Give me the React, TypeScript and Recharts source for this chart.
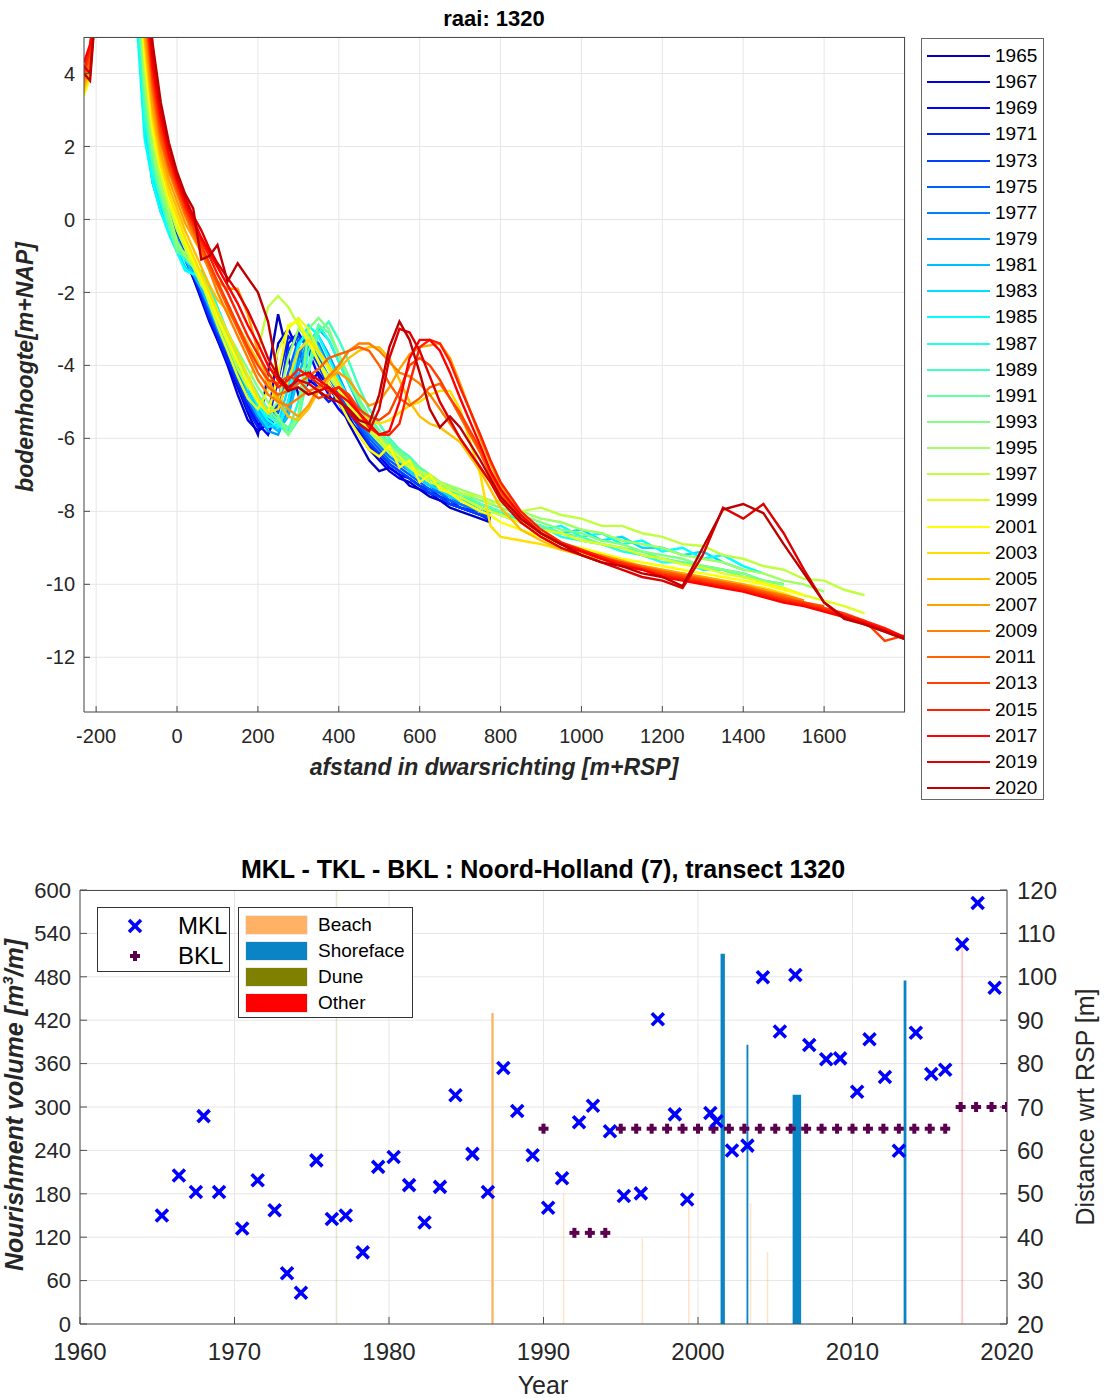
import React from "react";
import {
  CartesianGrid,
  ComposedChart,
  Line,
  LineChart,
  ReferenceArea,
  Scatter,
  XAxis,
  YAxis,
} from "recharts";

// ---------- top panel: cross-shore profiles, raai 1320 ----------

// cross-shore distance grid [m+RSP]
const distance = [
  -230, -215, -200, -100, -80, -60, -40, -20,
  0, 20, 40, 60, 80, 100, 125, 150, 175, 200,
  225, 250, 275, 300, 325, 350, 375, 400, 425, 450,
  475, 500, 525, 550, 575, 600, 625, 650, 675, 700,
  750, 775, 800, 850, 900, 950, 1000, 1050, 1100, 1150,
  1200, 1250, 1300, 1350, 1400, 1450, 1500, 1550, 1600, 1650,
  1700, 1750, 1800,
];

// bed level [m+NAP] per survey year
const z1965 = [null, null, 7, 8, 3.5, 1.4, 0.5, 0.0,
  -0.5, -1.0, -1.6, -2.1, -2.7, -3.3, -3.9, -4.6, -5.3, -5.9,
  -4.2, -2.6, -3.8, -4.8, -4.5, -4.2, -4.6, -5.0, -5.6, -6.1,
  -6.6, -6.9, -6.8, -7.0, -7.3, -7.4, -7.6, -7.7, -7.9, -8.0,
  -8.2, -8.3];
const z1967 = [null, null, 7, 8, 3.2, 1.2, 0.3, -0.2,
  -0.6, -1.1, -1.6, -2.2, -2.8, -3.3, -4.0, -4.8, -5.5, -5.8,
  -5.6, -3.4, -3.0, -3.6, -4.4, -4.6, -4.5, -4.9, -5.4, -5.9,
  -6.3, -6.6, -6.9, -7.1, -7.2, -7.4, -7.5, -7.7, -7.8, -7.9,
  -8.1, -8.2];
const z1969 = [null, null, 7, 8, 3.8, 1.6, 0.6, 0.1,
  -0.4, -0.9, -1.4, -2.0, -2.6, -3.1, -3.8, -4.5, -5.1, -5.6,
  -5.9, -5.2, -3.4, -3.1, -3.6, -4.3, -4.8, -5.2, -5.5, -5.8,
  -6.2, -6.5, -6.8, -7.0, -7.1, -7.3, -7.5, -7.6, -7.8, -7.9,
  -8.1, -8.25];
const z1971 = [null, null, 7, 8, 3.0, 1.1, 0.4, -0.1,
  -0.5, -1.0, -1.5, -2.1, -2.7, -3.2, -3.9, -4.5, -5.2, -5.7,
  -5.5, -4.4, -3.2, -3.5, -4.1, -4.7, -5.0, -4.8, -5.2, -5.7,
  -6.2, -6.4, -6.7, -6.9, -7.1, -7.3, -7.4, -7.6, -7.7, -7.9,
  -8.0, -8.2];
const z1973 = [null, null, 7, 8, 2.6, 1.0, 0.3, -0.2,
  -0.6, -1.0, -1.5, -2.0, -2.6, -3.1, -3.7, -4.4, -5.0, -5.5,
  -5.7, -5.0, -3.6, -3.2, -3.5, -4.0, -4.6, -5.0, -5.3, -5.7,
  -6.1, -6.4, -6.7, -6.9, -7.1, -7.3, -7.5, -7.6, -7.8, -7.9,
  -8.1, -8.2];
const z1975 = [null, null, 7, 8, 3.3, 1.4, 0.6, 0.1,
  -0.3, -0.8, -1.3, -1.9, -2.5, -3.0, -3.6, -4.2, -4.9, -5.4,
  -5.6, -5.3, -4.2, -3.3, -3.3, -3.8, -4.3, -4.8, -5.2, -5.6,
  -6.0, -6.3, -6.6, -6.8, -7.0, -7.2, -7.4, -7.5, -7.7, -7.8,
  -8.0, -8.15];
const z1977 = [null, null, 7, 8, 3.6, 1.5, 0.7, 0.2,
  -0.2, -0.7, -1.2, -1.8, -2.3, -2.9, -3.5, -4.1, -4.7, -5.2,
  -5.6, -5.7, -5.0, -3.8, -3.1, -3.4, -4.0, -4.6, -5.1, -5.5,
  -5.9, -6.2, -6.5, -6.7, -6.9, -7.1, -7.3, -7.5, -7.6, -7.8,
  -8.0, -8.1];
const z1979 = [null, null, 7, 7.5, 3.0, 1.2, 0.4, -0.1,
  -0.5, -1.0, -1.4, -1.9, -2.4, -3.0, -3.6, -4.3, -4.9, -5.4,
  -5.8, -5.9, -5.2, -4.0, -3.3, -3.2, -3.7, -4.3, -4.9, -5.4,
  -5.8, -6.1, -6.4, -6.6, -6.9, -7.1, -7.3, -7.4, -7.6, -7.7,
  -7.9, -8.05];
const z1981 = [null, null, 7, 7.5, 2.8, 1.0, 0.2, -0.3,
  -0.7, -1.1, -1.5, -1.9, -2.4, -2.9, -3.5, -4.1, -4.7, -5.2,
  -5.6, -5.8, -5.4, -4.3, -3.4, -3.0, -3.3, -3.9, -4.5, -5.1,
  -5.6, -6.0, -6.3, -6.5, -6.8, -7.0, -7.2, -7.4, -7.5, -7.7,
  -7.9, -8.0];
const z1983 = [null, null, 7, 6, 2.5, 1.2, 0.4, -0.2,
  -0.8, -1.3, -1.5, -1.6, -2.0, -2.6, -3.3, -4.0, -4.7, -5.3,
  -5.7, -5.6, -4.6, -3.4, -3.1, -3.5, -4.1, -4.6, -5.0, -5.4,
  -5.8, -6.1, -6.4, -6.6, -6.9, -7.1, -7.3, -7.4, -7.6, -7.7,
  -7.9, -8.0, -8.0, -8.3, -8.4, -8.6, -8.5, -8.8, -8.7, -9.0,
  -9.0, -9.2, -9.1, -9.4, -9.6];
const z1985 = [null, null, 7, 5.5, 2.2, 1.0, 0.2, -0.4,
  -0.9, -1.4, -1.5, -1.4, -1.8, -2.4, -3.1, -3.8, -4.5, -5.1,
  -5.5, -5.7, -5.0, -3.5, -2.9, -3.2, -3.8, -4.4, -4.9, -5.3,
  -5.6, -5.9, -6.2, -6.4, -6.7, -6.9, -7.1, -7.3, -7.4, -7.6,
  -7.9, -8.0, -8.1, -8.2, -8.5, -8.4, -8.7, -8.6, -8.9, -8.8,
  -9.1, -9.0, -9.3, -9.2, -9.5, -9.7];
const z1987 = [null, null, 7, 6, 2.8, 1.3, 0.5, -0.3,
  -0.8, -1.1, -1.3, -1.6, -2.1, -2.7, -3.3, -3.9, -4.5, -5.0,
  -5.4, -5.6, -5.8, -5.0, -3.6, -2.9, -3.3, -3.9, -4.5, -5.0,
  -5.4, -5.8, -6.1, -6.4, -6.6, -6.9, -7.1, -7.2, -7.4, -7.6,
  -7.8, -7.9, -8.1, -8.3, -8.4, -8.7, -8.8, -8.9, -9.1, -9.2,
  -9.4, -9.4, -9.6, -9.6, -9.8, -9.9];
const z1989 = [null, null, 7, 6.5, 3.0, 1.5, 0.6, -0.2,
  -0.7, -1.0, -1.2, -1.5, -1.9, -2.5, -3.1, -3.7, -4.3, -4.8,
  -5.3, -5.6, -5.9, -5.5, -4.2, -3.1, -2.8, -3.3, -3.9, -4.6,
  -5.2, -5.6, -6.0, -6.3, -6.5, -6.8, -7.0, -7.2, -7.4, -7.5,
  -7.8, -7.9, -8.1, -8.3, -8.5, -8.6, -8.8, -8.9, -9.0, -9.2,
  -9.3, -9.4, -9.5, -9.6, -9.7, -9.9, -10.0];
const z1991 = [3.9, 4.6, 7, 7, 3.4, 1.7, 0.7, -0.1,
  -0.9, -1.0, -1.2, -1.6, -2.1, -2.6, -3.2, -3.8, -4.3, -4.8,
  -5.2, -5.5, -5.7, -5.4, -4.0, -2.9, -3.1, -3.7, -4.3, -4.9,
  -5.4, -5.8, -6.1, -6.3, -6.6, -6.8, -7.0, -7.2, -7.3, -7.5,
  -7.8, -7.9, -8.0, -8.2, -8.4, -8.6, -8.7, -8.9, -9.0, -9.1,
  -9.3, -9.4, -9.5, -9.6, -9.8, -9.9, -10.0];
const z1993 = [3.8, 4.4, 7, 7, 3.6, 1.8, 0.8, 0.0,
  -0.8, -0.9, -1.1, -1.5, -2.0, -2.5, -3.1, -3.6, -4.1, -4.6,
  -5.0, -5.4, -5.9, -5.4, -3.0, -2.7, -3.0, -3.7, -4.4, -5.0,
  -5.5, -5.9, -6.2, -6.4, -6.6, -6.9, -7.0, -7.2, -7.4, -7.5,
  -7.7, -7.8, -7.9, -8.1, -8.3, -8.5, -8.6, -8.8, -8.9, -9.1,
  -9.2, -9.3, -9.5, -9.6, -9.7, -9.9, -10.0];
const z1995 = [3.7, 4.3, 7, 7.5, 3.8, 2.0, 1.0, 0.2,
  -0.6, -1.0, -1.3, -1.7, -2.2, -2.7, -3.3, -3.9, -4.5, -5.0,
  -5.3, -5.0, -3.8, -3.0, -3.2, -3.7, -4.1, -4.6, -5.0, -5.4,
  -5.8, -6.1, -6.3, -6.5, -6.7, -6.9, -7.0, -7.2, -7.3, -7.4,
  -7.6, -7.7, -7.8, -8.0, -8.2, -8.3, -8.5, -8.6, -8.8, -8.9,
  -9.0, -9.2, -9.3, -9.4, -9.6, -9.7, -9.9, -10.0, -10.2];
const z1997 = [3.6, 4.2, 7, 8, 4.2, 2.3, 1.2, 0.4,
  -0.3, -0.8, -1.3, -1.8, -2.1, -2.7, -3.4, -4.1, -4.6, -3.6,
  -2.4, -2.1, -2.4, -2.9, -3.4, -3.9, -4.3, -4.7, -5.1, -5.5,
  -5.8, -6.1, -6.4, -6.6, -6.8, -6.9, -7.1, -7.2, -7.4, -7.5,
  -7.6, -7.8, -7.7, -8.0, -7.9, -8.1, -8.2, -8.4, -8.4, -8.6,
  -8.7, -8.9, -8.95, -9.2, -9.3, -9.5, -9.6, -9.85, -9.9, -10.15,
  -10.3];
const z1999 = [3.5, 4.1, 7, 8, 4.4, 2.4, 1.3, 0.5,
  -0.2, -0.7, -1.2, -1.7, -2.3, -2.9, -3.6, -4.3, -4.9, -5.2,
  -4.7, -3.6, -3.0, -2.7, -3.0, -3.6, -4.1, -4.6, -5.1, -5.4,
  -5.7, -6.0, -6.3, -6.5, -6.8, -7.0, -7.2, -7.3, -7.5, -7.6,
  -7.9, -8.0, -8.1, -8.3, -8.5, -8.6, -8.8, -8.9, -9.0, -9.2,
  -9.3, -9.45, -9.55, -9.7, -9.8, -9.95, -10.1, -10.3, -10.45, -10.6,
  -10.8];
const z2001 = [3.4, 3.9, 6, 8, 4.6, 2.5, 1.4, 0.6,
  0.0, -0.6, -1.1, -1.6, -2.1, -2.7, -3.3, -3.9, -4.5, -5.0,
  -5.3, -4.3, -2.9, -2.8, -3.3, -3.9, -4.5, -5.0, -5.5, -5.9,
  -6.3, -6.5, -6.2, -6.8, -6.6, -7.2, -7.0, -7.4, -7.5, -7.7,
  -8.0, -8.1, -8.3, -8.5, -8.7, -8.9, -9.0, -9.15, -9.3, -9.4,
  -9.5, -9.6, -9.7, -9.8, -9.9, -10.0, -10.15, -10.3];
const z2003 = [3.5, 4.0, 6, 8.5, 4.8, 2.7, 1.5, 0.7,
  0.1, -0.5, -1.0, -1.5, -2.0, -2.5, -3.1, -3.7, -4.3, -4.9,
  -5.3, -5.2, -4.4, -3.6, -3.3, -3.6, -4.0, -4.5, -5.0, -5.3,
  -5.5, -5.6, -5.5, -5.3, -5.1, -5.0, -4.8, -4.7, -4.7, -5.2,
  -7.0, -8.4, -8.7, -8.8, -8.9, -9.05, -9.15, -9.25, -9.4, -9.5,
  -9.6, -9.7, -9.8, -9.9, -10.0, -10.1, -10.25, -10.45];
const z2005 = [3.6, 4.1, 6, 9, 5.0, 2.9, 1.7, 0.9,
  0.3, -0.3, -0.8, -1.3, -1.8, -2.2, -2.5, -2.9, -3.4, -3.9,
  -4.5, -5.0, -5.4, -5.5, -5.2, -4.7, -4.4, -4.1, -3.8, -3.6,
  -3.5, -3.5, -3.8, -4.4, -5.0, -5.4, -5.6, -5.7, -5.9, -6.1,
  -6.9, -7.4, -7.9, -8.5, -8.8, -9.05, -9.2, -9.3, -9.45, -9.55,
  -9.65, -9.75, -9.85, -9.95, -10.05, -10.15, -10.3, -10.5];
const z2007 = [3.7, 4.2, 6, 9, 5.2, 3.1, 1.9, 1.1,
  0.5, -0.1, -0.5, -0.9, -1.3, -1.7, -1.9, -1.9, -2.6, -3.6,
  -4.4, -4.9, -5.2, -5.4, -5.1, -4.6, -4.3, -4.2, -4.4, -4.8,
  -5.1, -5.0, -4.6, -4.1, -3.7, -3.5, -3.45, -3.4, -3.8, -4.5,
  -6.0, -6.7, -7.3, -8.1, -8.6, -8.9, -9.1, -9.2, -9.35, -9.5,
  -9.6, -9.7, -9.8, -9.9, -10.0, -10.15, -10.3, -10.45];
const z2009 = [3.8, 4.3, 6, 9, 5.6, 3.4, 2.1, 1.3,
  0.7, 0.1, -0.4, -0.9, -1.4, -2.0, -2.6, -3.2, -3.8, -4.4,
  -4.8, -5.0, -5.1, -4.9, -4.7, -4.6, -4.3, -4.0, -3.6, -3.4,
  -3.4, -3.6, -3.9, -4.2, -4.3, -4.5, -4.8, -5.2, -5.6, -6.0,
  -6.8, -7.2, -7.6, -8.2, -8.6, -8.9, -9.1, -9.25, -9.4, -9.5,
  -9.65, -9.75, -9.85, -9.95, -10.05, -10.2, -10.3, -10.45];
const z2011 = [3.9, 4.4, 6, 9, 5.8, 3.6, 2.2, 1.4,
  0.8, 0.2, -0.3, -0.8, -1.3, -1.8, -2.4, -3.0, -3.6, -4.2,
  -4.6, -4.8, -4.7, -4.5, -4.3, -4.1, -3.8, -3.7, -3.6, -3.5,
  -3.6, -4.0, -4.5, -4.9, -5.1, -4.9, -4.6, -4.5, -4.9, -5.4,
  -6.4, -7.0, -7.5, -8.2, -8.6, -8.9, -9.1, -9.25, -9.4, -9.55,
  -9.65, -9.75, -9.85, -9.95, -10.05, -10.2, -10.35, -10.5, -10.6];
const z2013 = [4.0, 4.6, 6, 9.5, 6.0, 3.8, 2.4, 1.5,
  0.9, 0.3, -0.2, -0.7, -1.2, -1.7, -2.3, -2.9, -3.5, -4.0,
  -4.4, -4.5, -4.3, -4.4, -4.7, -4.9, -4.8, -4.6, -4.8, -5.2,
  -5.4, -5.5, -5.3, -4.7, -4.0, -3.8, -4.0, -4.4, -4.9, -5.3,
  -6.3, -6.9, -7.4, -8.2, -8.6, -8.9, -9.1, -9.3, -9.4, -9.55,
  -9.7, -9.8, -9.9, -10.0, -10.1, -10.25, -10.4, -10.5, -10.65, -10.8,
  -11.0, -11.55, -11.4];
const z2015 = [4.1, 4.7, 6, 10, 6.2, 4.0, 2.6, 1.7,
  1.0, 0.4, -0.1, -0.6, -1.0, -1.5, -2.0, -2.6, -3.2, -3.7,
  -4.2, -4.6, -4.4, -4.1, -4.3, -4.5, -4.7, -4.6, -4.9, -5.3,
  -5.7, -5.9, -5.9, -5.6, -4.5, -3.5, -3.3, -3.4, -3.9, -4.6,
  -5.9, -6.6, -7.2, -8.0, -8.5, -8.85, -9.05, -9.25, -9.45, -9.6,
  -9.75, -9.85, -9.95, -10.05, -10.15, -10.3, -10.45, -10.55, -10.7, -10.85,
  -11.0, -11.2, -11.45];
const z2017 = [4.3, 4.8, 6, 10, 6.5, 4.2, 2.8, 1.8,
  1.1, 0.5, 0.0, -0.5, -0.9, -1.3, -1.8, -2.3, -2.9, -3.4,
  -4.0, -4.4, -4.7, -4.3, -4.2, -4.4, -4.6, -4.8, -5.0, -5.3,
  -5.6, -5.9, -5.8, -5.0, -3.8, -3.3, -3.3, -3.6, -4.2, -4.9,
  -6.2, -6.9, -7.4, -8.1, -8.6, -8.9, -9.1, -9.3, -9.5, -9.6,
  -9.8, -9.9, -10.0, -10.1, -10.2, -10.35, -10.5, -10.6, -10.75, -10.9,
  -11.05, -11.25, -11.45];
const z2019 = [4.2, 4.0, 6, 10, 7, 4.5, 3.0, 2.0,
  1.2, 0.6, 0.1, -0.3, -0.8, -1.2, -1.6, -2.0, -2.5, -3.1,
  -3.8, -4.3, -4.6, -4.4, -4.5, -4.7, -4.6, -4.9, -5.3, -5.6,
  -5.8, -5.2, -3.8, -3.0, -3.1, -3.6, -4.3, -5.0, -5.5, -6.0,
  -6.8, -7.2, -7.7, -8.3, -8.7, -9.0, -9.2, -9.4, -9.6, -9.8,
  -9.9, -10.1, -9.2, -7.9, -8.2, -7.8, -8.6, -9.6, -10.5, -10.9,
  -11.1, -11.3, -11.5];
const z2020 = [4.0, 3.8, 6, 10, 7, 4.8, 3.2, 2.1,
  1.3, 0.7, 0.3, -1.1, -1.0, -0.7, -1.7, -1.2, -1.6, -2.0,
  -2.8, -4.3, -4.7, -4.6, -4.8, -4.7, -4.9, -5.0, -5.2, -5.5,
  -5.6, -4.8, -3.5, -2.8, -3.3, -4.2, -5.2, -5.7, -5.4, -5.7,
  -6.6, -7.1, -7.6, -8.2, -8.6, -8.9, -9.2, -9.4, -9.5, -9.7,
  -9.8, -10.05, -9.0, -7.95, -7.8, -8.05, -8.9, -9.7, -10.5, -10.95,
  -11.1, -11.3, -11.5];

const profileYears = [
  1965, 1967, 1969, 1971, 1973, 1975, 1977, 1979, 1981, 1983,
  1985, 1987, 1989, 1991, 1993, 1995, 1997, 1999, 2001, 2003,
  2005, 2007, 2009, 2011, 2013, 2015, 2017, 2019, 2020,
];
const profiles = [
  z1965, z1967, z1969, z1971, z1973, z1975, z1977, z1979, z1981, z1983,
  z1985, z1987, z1989, z1991, z1993, z1995, z1997, z1999, z2001, z2003,
  z2005, z2007, z2009, z2011, z2013, z2015, z2017, z2019, z2020,
];
// jet colormap, 29 steps
const profileColors = [
  "#0000bf", "#0000df", "#0000ff", "#0020ff", "#0040ff", "#0060ff", "#0080ff",
  "#009fff", "#00bfff", "#00dfff", "#00ffff", "#20ffdf", "#40ffbf", "#60ff9f",
  "#80ff80", "#9fff60", "#bfff40", "#dfff20", "#ffff00", "#ffdf00", "#ffbf00",
  "#ff9f00", "#ff8000", "#ff6000", "#ff4000", "#ff2000", "#ff0000", "#df0000",
  "#bf0000",
];
const distTicks = [-200, 0, 200, 400, 600, 800, 1000, 1200, 1400, 1600];
const levelTicks = [-12, -10, -8, -6, -4, -2, 0, 2, 4];

const profileTable = distance.map((x, i) => {
  const row: Record<string, number | null> = { x };
  profileYears.forEach((yr, k) => {
    const v = profiles[k][i];
    row[`y${yr}`] = v === undefined ? null : v;
  });
  return row;
});

// ---------- bottom panel: MKL / BKL and nourishments ----------

const mklYear = [
  1965.3, 1966.4, 1967.5, 1968.0, 1969.0, 1970.5, 1971.5, 1972.6, 1973.4, 1974.3,
  1975.3, 1976.3, 1977.2, 1978.3, 1979.3, 1980.3, 1981.3, 1982.3, 1983.3, 1984.3,
  1985.4, 1986.4, 1987.4, 1988.3, 1989.3, 1990.3, 1991.2, 1992.3, 1993.2, 1994.3,
  1995.2, 1996.3, 1997.4, 1998.5, 1999.3, 2000.8, 2001.2, 2002.2, 2003.2, 2004.2,
  2005.3, 2006.3, 2007.2, 2008.3, 2009.2, 2010.3, 2011.1, 2012.1, 2013.0, 2014.1,
  2015.1, 2016.0, 2017.1, 2018.1, 2019.2,
];
const mklDistance = [
  45.0, 54.2, 50.4, 67.9, 50.4, 42.0, 53.1, 46.2, 31.7, 27.2,
  57.7, 44.2, 45.0, 36.5, 56.2, 58.5, 52.0, 43.4, 51.6, 72.7,
  59.2, 50.4, 79.0, 69.1, 58.9, 46.8, 53.6, 66.5, 70.3, 64.4,
  49.5, 50.1, 90.2, 68.3, 48.7, 68.6, 66.7, 60.0, 61.1, 99.9,
  87.4, 100.4, 84.3, 81.0, 81.2, 73.5, 85.6, 76.9, 59.9, 87.1,
  77.6, 78.6, 107.5, 117.0, 97.5,
];

const bklYear = [
  1990, 1992, 1993, 1994, 1995, 1996, 1997, 1998, 1999, 2000,
  2001, 2002, 2003, 2004, 2005, 2006, 2007, 2008, 2009, 2010,
  2011, 2012, 2013, 2014, 2015, 2016, 2017, 2018, 2019, 2020,
];
const bklDistance = [
  65, 41, 41, 41, 65, 65, 65, 65, 65, 65,
  65, 65, 65, 65, 65, 65, 65, 65, 65, 65,
  65, 65, 65, 65, 65, 65, 70, 70, 70, 70,
];

const nourishYear = [1976.6, 1986.7, 1991.3, 1996.4, 1999.4, 2001.6, 2003.2, 2003.4, 2004.5, 2006.4, 2013.4, 2017.1];
const nourishVolume = [600, 430, 180, 118, 164, 512, 386, 167, 100, 317, 475, 522];
const nourishType = ["Dune", "Beach", "Beach", "Beach", "Beach", "Shoreface", "Shoreface", "Beach", "Beach", "Shoreface", "Shoreface", "Other"];

// drawing style of the nourishment bars (years wide, opacity)
const barWidth = [0.1, 0.15, 0.1, 0.1, 0.1, 0.28, 0.12, 0.1, 0.1, 0.55, 0.18, 0.12];
const barOpacity = [0.18, 1, 0.35, 0.35, 0.35, 1, 1, 0.35, 0.35, 1, 1, 0.2];
const typeColor: Record<string, string> = {
  Beach: "#ffb266",
  Shoreface: "#0b84c6",
  Dune: "#808000",
  Other: "#ff0000",
};
const nourishTypes = ["Beach", "Shoreface", "Dune", "Other"];

const yearTicks = [1960, 1970, 1980, 1990, 2000, 2010, 2020];
const volumeTicks = [0, 60, 120, 180, 240, 300, 360, 420, 480, 540, 600];
const rspTicks = [20, 30, 40, 50, 60, 70, 80, 90, 100, 110, 120];

const mklData = mklYear.map((year, i) => ({ year, dist: mklDistance[i] }));
const bklData = bklYear.map((year, i) => ({ year, dist: bklDistance[i] }));
const nourishData = nourishYear.map((year, i) => ({ year, vol: nourishVolume[i] }));

const axisColor = "#4d4d4d";
const textColor = "#262626";

const XMark = (props: any) => {
  const { cx, cy } = props;
  if (cx == null || cy == null) return null;
  const s = 6;
  return (
    <g stroke="#0000ff" strokeWidth={3.6}>
      <line x1={cx - s} y1={cy - s} x2={cx + s} y2={cy + s} />
      <line x1={cx - s} y1={cy + s} x2={cx + s} y2={cy - s} />
    </g>
  );
};

const PlusMark = (props: any) => {
  const { cx, cy } = props;
  if (cx == null || cy == null) return null;
  const s = 5;
  return (
    <g stroke="#5a004f" strokeWidth={4}>
      <line x1={cx - s} y1={cy} x2={cx + s} y2={cy} />
      <line x1={cx} y1={cy - s} x2={cx} y2={cy + s} />
    </g>
  );
};

// the nourishment volumes are drawn as ReferenceAreas; this keeps the left axis alive
const NoMark = () => <g />;

const abs = (left: number, top: number, extra: React.CSSProperties = {}): React.CSSProperties => ({
  position: "absolute",
  left,
  top,
  ...extra,
});

const tickStroke = { stroke: axisColor };

export default function App(): React.ReactElement {
  return (
    <div
      style={{
        position: "absolute",
        left: 0,
        top: 0,
        width: 1108,
        height: 1398,
        background: "#ffffff",
        fontFamily: '"Liberation Sans", Arial, sans-serif',
        color: textColor,
        overflow: "hidden",
      }}
    >
      {/* ---------- top panel ---------- */}
      <div style={abs(494, 19, { transform: "translate(-50%, -50%)", fontWeight: "bold", fontSize: 22, whiteSpace: "nowrap", color: "#000" })}>
        raai: 1320
      </div>
      <div style={abs(0, 0)}>
        <LineChart width={910} height={800} data={profileTable} margin={{ top: 37, right: 5, left: 0, bottom: 0 }}>
          <CartesianGrid stroke="#e6e6e6" />
          <XAxis
            dataKey="x"
            type="number"
            domain={[-230, 1800]}
            ticks={distTicks}
            allowDataOverflow
            height={88}
            stroke={axisColor}
            tickLine={tickStroke}
            tickSize={-6}
            tickMargin={23}
            tick={{ fill: textColor, fontSize: 20 }}
            interval={0}
          />
          <YAxis
            type="number"
            domain={[-13.5, 5]}
            ticks={levelTicks}
            allowDataOverflow
            width={84}
            stroke={axisColor}
            tickLine={tickStroke}
            tickSize={-6}
            tickMargin={15}
            tick={{ fill: textColor, fontSize: 20 }}
            interval={0}
          />
          {profileYears.map((yr, k) => (
            <Line
              key={yr}
              dataKey={`y${yr}`}
              type="linear"
              stroke={profileColors[k]}
              strokeWidth={2.4}
              dot={false}
              connectNulls
              isAnimationActive={false}
            />
          ))}
        </LineChart>
      </div>
      <div style={abs(84, 37, { width: 821, height: 675, borderTop: `1px solid ${axisColor}`, borderRight: `1px solid ${axisColor}`, boxSizing: "border-box", pointerEvents: "none" })} />
      <div style={abs(25, 367, { transform: "translate(-50%, -50%) rotate(-90deg)", fontWeight: "bold", fontStyle: "italic", fontSize: 23, whiteSpace: "nowrap" })}>
        bodemhoogte[m+NAP]
      </div>
      <div style={abs(494, 767, { transform: "translate(-50%, -50%)", fontWeight: "bold", fontStyle: "italic", fontSize: 23, whiteSpace: "nowrap" })}>
        afstand in dwarsrichting [m+RSP]
      </div>
      {/* legend of survey years */}
      <div style={abs(921, 38, { width: 123, height: 762, border: "1px solid #666", boxSizing: "border-box", background: "#fff" })}>
        {profileYears.map((yr, k) => (
          <div key={yr} style={abs(5, 17 + k * 26.14 - 12, { height: 24, display: "flex", alignItems: "center" })}>
            <div style={{ width: 63, height: 0, borderTop: `2.5px solid ${profileColors[k]}` }} />
            <span style={{ marginLeft: 5, fontSize: 19, color: "#000" }}>{yr}</span>
          </div>
        ))}
      </div>

      {/* ---------- bottom panel ---------- */}
      <div style={abs(543, 869, { transform: "translate(-50%, -50%)", fontWeight: "bold", fontSize: 25, whiteSpace: "nowrap", color: "#000" })}>
        MKL - TKL - BKL : Noord-Holland (7), transect 1320
      </div>
      <div style={abs(0, 850)}>
        <ComposedChart width={1108} height={548} margin={{ top: 40, right: 0, left: 0, bottom: 0 }}>
          <CartesianGrid stroke="#e6e6e6" yAxisId="left" />
          <XAxis
            dataKey="year"
            type="number"
            domain={[1960, 2020]}
            ticks={yearTicks}
            allowDataOverflow
            height={74}
            stroke={axisColor}
            tickLine={tickStroke}
            tickSize={-7}
            tickMargin={26}
            tick={{ fill: textColor, fontSize: 24 }}
            interval={0}
          />
          <YAxis
            yAxisId="left"
            type="number"
            domain={[0, 600]}
            ticks={volumeTicks}
            allowDataOverflow
            width={80}
            stroke={axisColor}
            tickLine={tickStroke}
            tickSize={-7}
            tickMargin={16}
            tick={{ fill: textColor, fontSize: 22 }}
            interval={0}
          />
          <YAxis
            yAxisId="right"
            orientation="right"
            type="number"
            domain={[20, 120]}
            ticks={rspTicks}
            allowDataOverflow
            width={101}
            stroke={axisColor}
            tickLine={tickStroke}
            tickSize={-7}
            tickMargin={17}
            tick={{ fill: textColor, fontSize: 24 }}
            interval={0}
          />
          <Scatter name="Nourishment" yAxisId="left" data={nourishData} dataKey="vol" shape={<NoMark />} isAnimationActive={false} />
          {nourishYear.map((yr, i) => (
            <ReferenceArea
              key={`n-${i}`}
              yAxisId="left"
              x1={yr - barWidth[i] / 2}
              x2={yr + barWidth[i] / 2}
              y1={0}
              y2={nourishVolume[i]}
              fill={typeColor[nourishType[i]]}
              fillOpacity={barOpacity[i]}
              stroke="none"
              ifOverflow="visible"
            />
          ))}
          <Scatter name="BKL" yAxisId="right" data={bklData} dataKey="dist" shape={<PlusMark />} isAnimationActive={false} />
          <Scatter name="MKL" yAxisId="right" data={mklData} dataKey="dist" shape={<XMark />} isAnimationActive={false} />
        </ComposedChart>
      </div>
      <div style={abs(80, 890, { width: 927, height: 434, borderTop: `1px solid ${axisColor}`, boxSizing: "border-box", pointerEvents: "none" })} />
      <div style={abs(14, 1105, { transform: "translate(-50%, -50%) rotate(-90deg)", fontWeight: "bold", fontStyle: "italic", fontSize: 25, whiteSpace: "nowrap" })}>
        Nourishment volume [m<sup style={{ fontSize: "0.6em" }}>3</sup>/m]
      </div>
      <div style={abs(1085, 1107, { transform: "translate(-50%, -50%) rotate(-90deg)", fontSize: 25, whiteSpace: "nowrap" })}>
        Distance wrt RSP [m]
      </div>
      <div style={abs(543, 1385, { transform: "translate(-50%, -50%)", fontSize: 25, whiteSpace: "nowrap" })}>
        Year
      </div>
      {/* MKL / BKL legend */}
      <div style={abs(97, 907, { width: 133, height: 65, border: "1px solid #333", boxSizing: "border-box", background: "#fff" })}>
        <svg width={30} height={60} style={abs(22, 2)}>
          <XMark cx={15} cy={16} />
          <PlusMark cx={15} cy={46} />
        </svg>
        <div style={abs(80, 18, { transform: "translateY(-50%)", fontSize: 24, color: "#000" })}>MKL</div>
        <div style={abs(80, 48, { transform: "translateY(-50%)", fontSize: 24, color: "#000" })}>BKL</div>
      </div>
      {/* nourishment type legend */}
      <div style={abs(238, 907, { width: 175, height: 111, border: "1px solid #333", boxSizing: "border-box", background: "#fff" })}>
        {nourishTypes.map((t, k) => (
          <div key={t} style={abs(7, 7 + k * 26, { display: "flex", alignItems: "center", height: 20 })}>
            <div style={{ width: 61, height: 18, background: typeColor[t], boxShadow: "0 0 0 1px rgba(0,0,0,0.08)" }} />
            <span style={{ marginLeft: 11, fontSize: 19, color: "#000" }}>{t}</span>
          </div>
        ))}
      </div>
    </div>
  );
}
